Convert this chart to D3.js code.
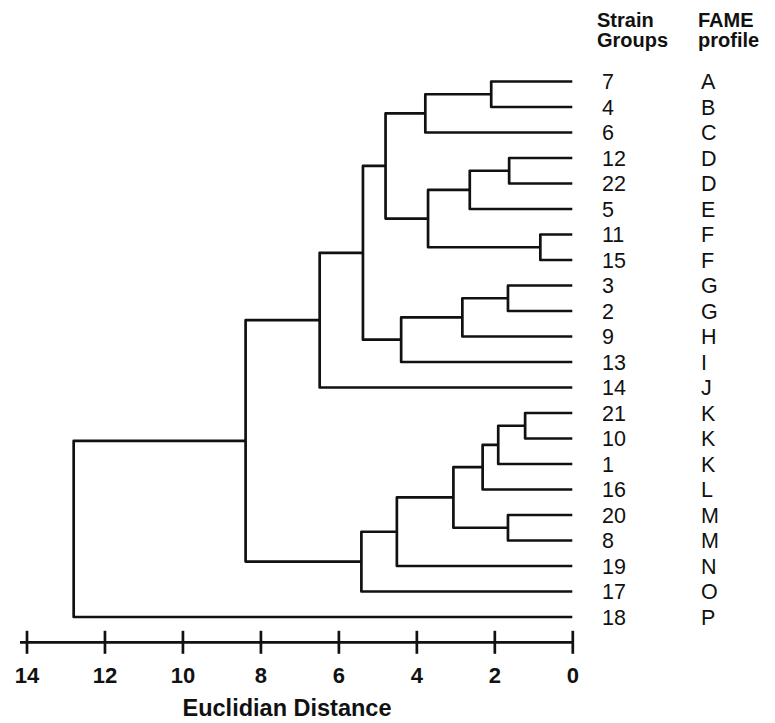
<!DOCTYPE html>
<html>
<head>
<meta charset="utf-8">
<script src="https://d3js.org/d3.v7.min.js"></script>
<style>
  html, body { margin: 0; padding: 0; background: #fff; }
  svg { display: block; font-family: "Liberation Sans", Arial, sans-serif; }
</style>
</head>
<body>
<svg id="chart" width="775" height="723"></svg>
<script>
// Leaf order, top to bottom
const strains = ["7", "4", "6", "12", "22", "5", "11", "15", "3", "2", "9", "13", "14",
                 "21", "10", "1", "16", "20", "8", "19", "17", "18"];
const profiles = ["A", "B", "C", "D", "D", "E", "F", "F", "G", "G", "H", "I", "J",
                  "K", "K", "K", "L", "M", "M", "N", "O", "P"];

// Merge steps: node name, its two members, distance of the join
const mergeNames = ["n1", "n2", "n3", "n4", "n5", "n6", "n7", "n8", "n9", "n10", "n11", "n12",
                    "m1", "m2", "m3", "m4", "m5", "m6", "m7", "m8", "root"];
const mergeLeft  = ["7", "n1", "12", "n3", "11", "n4", "n2", "3", "n8", "n9", "n7", "n11",
                    "21", "m1", "m2", "20", "m3", "m5", "m6", "n12", "m8"];
const mergeRight = ["4", "6", "22", "5", "15", "n5", "n6", "2", "9", "13", "n10", "14",
                    "10", "1", "16", "8", "m4", "19", "17", "m7", "18"];
const mergeHeight = [2.08, 3.77, 1.62, 2.63, 0.82, 3.70, 4.79, 1.65, 2.82, 4.39, 5.37, 6.48,
                     1.21, 1.90, 2.30, 1.65, 3.05, 4.50, 5.41, 8.38, 12.79];

const xTicks = [14, 12, 10, 8, 6, 4, 2, 0];

const svg = d3.select('#chart');
const font = '"Liberation Sans", Arial, sans-serif';

// Scales
const x = d3.scaleLinear().domain([14, 0]).range([26.5, 572.3]);
const y = d3.scalePoint().domain(strains).range([81.5, 617]);

// Build tree from the merge table
const nodes = {};
strains.forEach(s => { nodes[s] = { name: s, height: 0 }; });
mergeNames.forEach((name, i) => {
    nodes[name] = {
        name: name,
        height: mergeHeight[i],
        children: [nodes[mergeLeft[i]], nodes[mergeRight[i]]]
    };
});
const root = d3.hierarchy(nodes.root);

// y of internal nodes = midpoint of children
root.eachAfter(d => {
    if (d.children) {
        d.yPos = (d.children[0].yPos + d.children[1].yPos) / 2;
    } else {
        d.yPos = y(d.data.name);
    }
});

// Draw the brackets
const g = svg.append('g');
g.selectAll('path.link')
    .data(root.descendants().filter(d => d.children))
    .join('path')
    .attr('class', 'link')
    .attr('fill', 'none')
    .attr('stroke', '#111')
    .attr('stroke-width', 2.7)
    .attr('stroke-linejoin', 'round')
    .attr('d', d => {
        const [a, b] = d.children;
        return `M${x(a.data.height)},${a.yPos}H${x(d.data.height)}V${b.yPos}H${x(b.data.height)}`;
    });

// Leaf labels
svg.selectAll('text.strain')
    .data(strains)
    .join('text')
    .attr('class', 'strain')
    .attr('x', 602)
    .attr('y', d => y(d) + 7.5)
    .attr('font-size', 21.5)
    .attr('fill', '#111')
    .text(d => d);

svg.selectAll('text.profile')
    .data(profiles)
    .join('text')
    .attr('class', 'profile')
    .attr('x', 701)
    .attr('y', (d, i) => y(strains[i]) + 7.5)
    .attr('font-size', 21.5)
    .attr('fill', '#111')
    .text(d => d);

// Column headers
const headers = [
    { x: 597, lines: ['Strain', 'Groups'] },
    { x: 698, lines: ['FAME', 'profile'] }
];
headers.forEach(h => {
    h.lines.forEach((t, i) => {
        svg.append('text')
            .attr('x', h.x)
            .attr('y', 27 + i * 20)
            .attr('font-size', 20)
            .attr('font-weight', 'bold')
            .attr('fill', '#111')
            .text(t);
    });
});

// Axis
const axisY = 642.3;
const axis = d3.axisBottom(x)
    .tickValues(xTicks)
    .tickFormat(d3.format('d'))
    .tickSizeOuter(0);

const axisG = svg.append('g')
    .attr('transform', `translate(0, ${axisY})`)
    .call(axis);

axisG.select('.domain').remove();
axisG.insert('line', ':first-child')
    .attr('x1', x(14) - 6.5)
    .attr('x2', x(0))
    .attr('stroke', '#111')
    .attr('stroke-width', 2.7);

axisG.selectAll('.tick line')
    .attr('y1', -11.5)
    .attr('y2', 11.5)
    .attr('stroke', '#111')
    .attr('stroke-width', 2.7);

axisG.selectAll('.tick text')
    .attr('y', 41)
    .attr('dy', 0)
    .attr('fill', '#111')
    .attr('font-family', font)
    .attr('font-size', 22)
    .attr('font-weight', 'bold');

// Axis title
svg.append('text')
    .attr('x', 287)
    .attr('y', 716)
    .attr('text-anchor', 'middle')
    .attr('font-size', 23.5)
    .attr('font-weight', 'bold')
    .attr('fill', '#111')
    .text('Euclidian Distance');
</script>
</body>
</html>
